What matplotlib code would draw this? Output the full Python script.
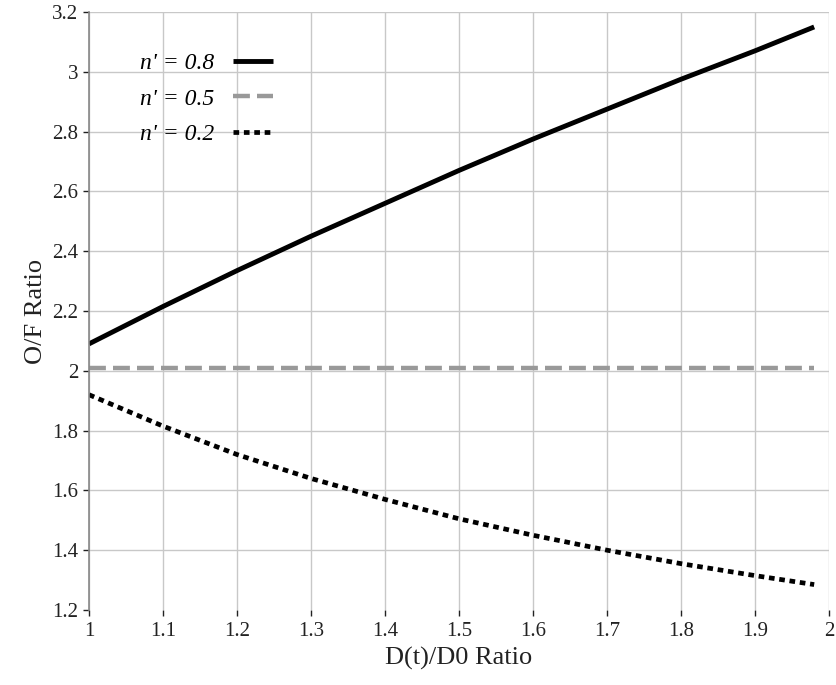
import numpy as np
import matplotlib
matplotlib.use("Agg")
import matplotlib.pyplot as plt

# D(t)/D0 ratio
d_ratio = [1.0, 1.1, 1.2, 1.3, 1.4, 1.5, 1.6, 1.7, 1.8, 1.9, 1.98]
# O/F ratio for each n'
of_08 = [2.09, 2.215, 2.335, 2.45, 2.56, 2.67, 2.775, 2.875, 2.975, 3.07, 3.15]
of_05 = [2.01, 2.01, 2.01, 2.01, 2.01, 2.01, 2.01, 2.01, 2.01, 2.01, 2.01]
of_02 = [1.92, 1.815, 1.72, 1.64, 1.57, 1.505, 1.45, 1.40, 1.355, 1.315, 1.285]

x_ticks = [1, 1.1, 1.2, 1.3, 1.4, 1.5, 1.6, 1.7, 1.8, 1.9, 2]
x_labels = ["1", "1.1", "1.2", "1.3", "1.4", "1.5", "1.6", "1.7", "1.8", "1.9", "2"]
y_ticks = [1.2, 1.4, 1.6, 1.8, 2, 2.2, 2.4, 2.6, 2.8, 3, 3.2]
y_labels = ["1.2", "1.4", "1.6", "1.8", "2", "2.2", "2.4", "2.6", "2.8", "3", "3.2"]

plt.rcParams["font.family"] = ["Liberation Serif", "DejaVu Serif"]

fig = plt.figure(figsize=(8.37, 6.85), dpi=100)
ax = fig.add_axes([0.1063, 0.1095, 0.8841, 0.873])

ax.plot(d_ratio, of_08, color="black", lw=3.5, label="n' = 0.8", solid_capstyle="butt")
ax.plot(d_ratio, of_05, color="#999999", lw=3.2, ls=(0, (3.8, 1.6)), label="n' = 0.5")
ax.plot(d_ratio, of_02, color="black", lw=3.4, ls=(0, (1.2, 1.0)), label="n' = 0.2")

ax.set_xlim(1, 2)
ax.set_ylim(1.2, 3.2)
ax.set_xticks(x_ticks)
ax.set_xticklabels(x_labels)
ax.set_yticks(y_ticks)
ax.set_yticklabels(y_labels)
ax.grid(True, color="#c8c8c8", lw=1)
ax.yaxis.get_gridlines()[0].set_visible(False)
ax.set_axisbelow(True)

for s in ["top", "right", "bottom"]:
    ax.spines[s].set_visible(False)
ax.spines["left"].set_color("#888888")
ax.spines["left"].set_linewidth(1.2)

ax.tick_params(axis="both", labelsize=15, colors="#222222", direction="out",
               length=4, width=1)
ax.tick_params(axis="x", pad=5)

ax.set_xlabel("D(t)/D0 Ratio", fontsize=19, color="#222222", labelpad=4)
ax.set_ylabel("O/F Ratio", fontsize=19, color="#222222", labelpad=4)

leg = ax.legend(loc="upper left", bbox_to_anchor=(0.04, 0.968), frameon=False,
                markerfirst=False, handlelength=1.7, labelspacing=0.6,
                handletextpad=0.8, prop={"style": "italic", "size": 17})

plt.savefig("out.png", dpi=100)
